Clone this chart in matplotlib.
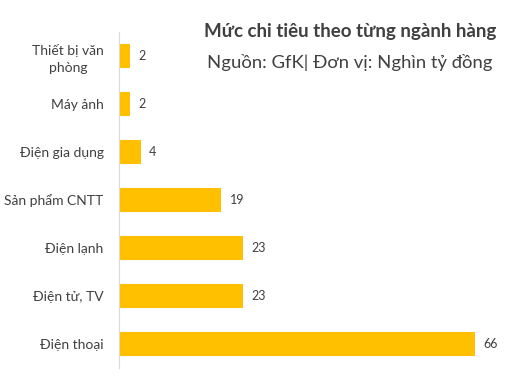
import matplotlib
matplotlib.use('Agg')
import matplotlib.pyplot as plt

categories = ['Thiết bị văn\nphòng', 'Máy ảnh', 'Điện gia dụng', 'Sản phẩm CNTT',
              'Điện lạnh', 'Điện tử, TV', 'Điện thoại']
values = [2, 2, 4, 19, 23, 23, 66]

title = 'Mức chi tiêu theo từng ngành hàng'
subtitle = 'Nguồn: GfK| Đơn vị: Nghìn tỷ đồng'

plt.rcParams['font.family'] = ['Lato', 'DejaVu Sans']

fig = plt.figure(figsize=(5.12, 3.84), dpi=100)
ax = fig.add_axes([0.2324, 0.0417, 0.74, 0.875])

ypos = list(range(len(categories)))
ax.barh(ypos, values, height=0.48, color='#FFC000')
ax.set_ylim(len(categories) - 0.5, -0.5)
ax.set_xlim(0, 70.3)

ax.set_yticks(ypos)
ax.set_yticklabels(categories, fontsize=10, color='#404040')
for lbl in ax.get_yticklabels():
    lbl.set_multialignment('center')
    lbl.set_linespacing(1.45)
ax.tick_params(axis='y', length=0, pad=11)
ax.set_xticks([])

for s in ['top', 'right', 'bottom']:
    ax.spines[s].set_visible(False)
ax.spines['left'].set_color('#D9D9D9')

for y, v in zip(ypos, values):
    ax.text(v + 1.6, y, str(v), va='center', ha='left', fontsize=9, color='#404040')

fig.text(0.684, 0.917, title, ha='center', va='center', fontsize=13.5,
         fontweight='bold', color='#404040')
fig.text(0.684, 0.836, subtitle, ha='center', va='center', fontsize=13.3,
         color='#404040')

fig.savefig('out.png', dpi=100)
